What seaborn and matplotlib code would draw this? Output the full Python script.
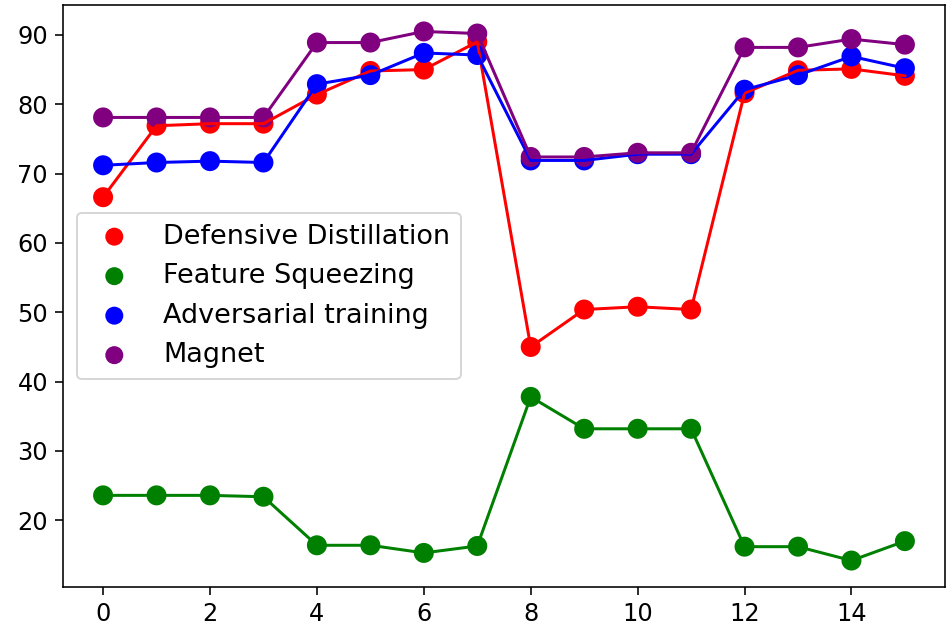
import matplotlib
matplotlib.use("Agg")
import matplotlib.pyplot as plt
import seaborn as sns
import numpy as np
import pandas as pd

x = list(range(16))
defensive_distillation = [66.6, 76.9, 77.2, 77.2, 81.4, 84.8, 85.0, 89.0,
                          45.0, 50.4, 50.8, 50.4, 81.6, 84.9, 85.1, 84.1]
feature_squeezing = [23.6, 23.6, 23.6, 23.4, 16.4, 16.4, 15.3, 16.3,
                     37.8, 33.2, 33.2, 33.2, 16.2, 16.2, 14.2, 17.0]
adversarial_training = [71.2, 71.6, 71.8, 71.6, 82.9, 84.2, 87.4, 87.1,
                        71.9, 71.9, 72.8, 72.8, 82.1, 84.2, 86.9, 85.2]
magnet = [78.1, 78.1, 78.1, 78.1, 88.9, 88.9, 90.5, 90.2,
          72.4, 72.4, 73.0, 73.0, 88.2, 88.2, 89.4, 88.6]

series = [
    ("Defensive Distillation", defensive_distillation, "red"),
    ("Feature Squeezing", feature_squeezing, "green"),
    ("Adversarial training", adversarial_training, "blue"),
    ("Magnet", magnet, "purple"),
]

fig = plt.figure(figsize=(947 / 144, 633 / 144), dpi=144)
ax = fig.add_axes([63 / 947, 1 - 587 / 633, 882 / 947, 582 / 633])

for name, vals, color in series:
    df = pd.DataFrame({"x": x, "y": vals})
    sns.lineplot(data=df, x="x", y="y", color=color, linewidth=1.5, ax=ax, legend=False)
    sns.scatterplot(data=df, x="x", y="y", color=color, s=100, edgecolor="none",
                    label=name, ax=ax)

ax.set_xlabel("")
ax.set_ylabel("")
ax.tick_params(labelsize=12, length=4)
leg = ax.legend(loc="center left", fontsize=13.5, markerscale=0.9)
fig.savefig("out.png", dpi=144)
